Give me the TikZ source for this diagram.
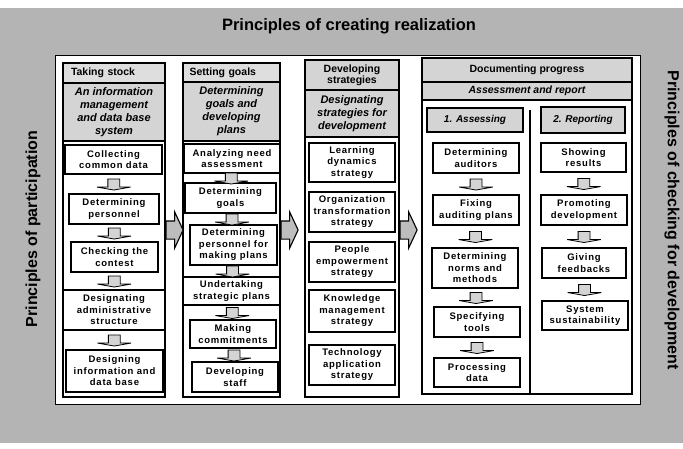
\documentclass[tikz,border=0pt]{standalone}
\usepackage{fontspec}
\setmainfont{Liberation Sans}
\newfontfamily\itemfont[LetterSpace=8]{Liberation Sans}
\usetikzlibrary{shapes.arrows}
\definecolor{panelgray}{HTML}{B4B4B4}
\definecolor{subgray}{HTML}{D4D4D4}
\definecolor{headgray}{HTML}{DEDEDE}
\definecolor{arrowgray}{HTML}{BDBDBD}

\tikzset{
  column/.style={draw, line width=1.1pt, fill=white, inner sep=0pt},
  header/.style={draw, line width=1.1pt, fill=headgray, inner sep=0pt, align=center,
    font=\bfseries\fontsize{10.5}{11}\selectfont},
  subhead/.style={draw, line width=1.1pt, fill=subgray, inner sep=0pt, align=center,
    font=\bfseries\itshape\fontsize{11}{13}\selectfont},
  item/.style={draw, line width=1.1pt, fill=white, inner sep=0pt, align=center,
    font=\itemfont\bfseries\fontsize{9.5}{11.5}\selectfont},
  % the shaft width comes from inner ysep, the head from the extend
  dnarrow/.style={single arrow, draw, line width=0.8pt, fill=subgray, rotate=-90,
    inner xsep=0pt, inner ysep=5.5pt, minimum height=11pt, minimum width=0pt,
    single arrow head extend=11pt, single arrow tip angle=160},
  bigarrow/.style={single arrow, draw, line width=1.1pt, fill=arrowgray,
    inner xsep=0pt, inner ysep=8.5pt, minimum height=17pt, minimum width=0pt,
    single arrow head extend=9pt, single arrow tip angle=130},
  label/.style={font=\bfseries\fontsize{16}{18}\selectfont},
}

\begin{document}
\begin{tikzpicture}[x=1pt, y=-1pt]
    \useasboundingbox (0,0) rectangle (683,448);
    \fill[panelgray] (0,8) rectangle (683,443);
    \draw[line width=0.9pt, fill=white] (55,55) rectangle (640,404);

    \node[label, font=\bfseries\fontsize{16.5}{18}\selectfont] (title) at (349,26) {Principles of creating realization};
    \node[label, rotate=90] (particip) at (33,229) {Principles of participation};
    \node[label, rotate=-90] (checking) at (672,220) {Principles of checking for development};

    % taking stock
    \node[column, minimum width=102pt, minimum height=334pt] (col1) at (114,230) {};
    \node[header, line width=1.8pt, minimum width=102pt, minimum height=20pt, text width=86pt, align=left] (head1) at (114,73) {Taking stock};
    \node[subhead, minimum width=102pt, minimum height=58pt] (sub1) at (114,112) {An information\\management\\and data base\\system};
    \node[item, minimum width=97pt, minimum height=29pt] (c1a) at (113.5,159.5) {Collecting\\common data};
    \node[item, minimum width=90pt, minimum height=30pt] (c1b) at (114,209) {Determining\\personnel};
    \node[item, minimum width=87pt, minimum height=30pt] (c1c) at (114.5,257) {Checking the\\contest};
    \node[item, minimum width=102pt, minimum height=40pt] (c1d) at (114,310) {Designating\\administrative\\structure};
    \node[item, minimum width=97pt, minimum height=42pt] (c1e) at (114.5,371) {Designing\\information and\\data base};
    \path (c1a.south) -- node[dnarrow] {} (c1b.north);
    \path (c1b.south) -- node[dnarrow] {} (c1c.north);
    \path (c1c.south) -- node[dnarrow] {} (c1d.north);
    \path (c1d.south) -- node[dnarrow] {} (c1e.north);

    % setting goals
    \node[column, minimum width=97pt, minimum height=334pt] (col2) at (231.5,230) {};
    \node[header, line width=1.5pt, minimum width=97pt, minimum height=19pt, text width=84pt, align=left] (head2) at (231.5,72.5) {Setting goals};
    \node[subhead, minimum width=97pt, minimum height=59pt] (sub2) at (231.5,111.5) {Determining\\goals and\\developing\\plans};
    \node[item, minimum width=96pt, minimum height=29pt] (c2a) at (232,158.5) {Analyzing need\\assessment};
    \node[item, minimum width=91pt, minimum height=30pt] (c2b) at (230.5,198) {Determining\\goals};
    \node[item, minimum width=87pt, minimum height=40pt] (c2c) at (233.5,245) {Determining\\personnel for\\making plans};
    \node[item, minimum width=97pt, minimum height=28pt] (c2d) at (231.5,291) {Undertaking\\strategic plans};
    \node[item, minimum width=86pt, minimum height=28pt] (c2e) at (233,334) {Making\\commitments};
    \node[item, minimum width=86pt, minimum height=30pt] (c2f) at (235,377) {Developing\\staff};
    \path (c2a.south) -- node[dnarrow] {} (c2b.north);
    \path (c2b.south) -- node[dnarrow] {} (c2c.north);
    \path (c2c.south) -- node[dnarrow] {} (c2d.north);
    \path (c2d.south) -- node[dnarrow] {} (c2e.north);
    \path (c2e.south) -- node[dnarrow] {} (c2f.north);

    % developing strategies
    \node[column, minimum width=94pt, minimum height=337pt] (col3) at (352,228.5) {};
    \node[header, line width=1.1pt, fill=subgray, minimum width=94pt, minimum height=30pt] (head3) at (352,75) {Developing\\strategies};
    \node[subhead, minimum width=94pt, minimum height=47pt] (sub3) at (352,113.5) {Designating\\strategies for\\development};
    \node[item, minimum width=86pt, minimum height=39pt] (c3a) at (352,162.5) {Learning\\dynamics\\strategy};
    \node[item, minimum width=86pt, minimum height=40pt] (c3b) at (352,212) {Organization\\transformation\\strategy};
    \node[item, minimum width=86pt, minimum height=40pt] (c3c) at (352,262) {People\\empowerment\\strategy};
    \node[item, minimum width=86pt, minimum height=42pt] (c3d) at (352,311) {Knowledge\\management\\strategy};
    \node[item, minimum width=86pt, minimum height=40pt] (c3e) at (352,365) {Technology\\application\\strategy};

    % documenting progress
    \node[column, minimum width=210pt, minimum height=336pt] (col4) at (527,226) {};
    \node[header, line width=1.1pt, fill=subgray, minimum width=210pt, minimum height=24pt] (head4) at (527,70) {Documenting progress};
    \node[subhead, font=\bfseries\itshape\fontsize{10.5}{12}\selectfont, minimum width=210pt, minimum height=18pt] (sub4) at (527,91) {Assessment and report};
    \draw[line width=1.1pt] (530,110) -- (col4.south -| 530,0);
    \node[subhead, font=\bfseries\itshape\fontsize{10}{12}\selectfont, minimum width=96pt, minimum height=24pt] (assess) at (475,120) {1. Assessing};
    \node[subhead, font=\bfseries\itshape\fontsize{10}{12}\selectfont, minimum width=84pt, minimum height=26pt] (report) at (583,120) {2. Reporting};
    \node[item, minimum width=86pt, minimum height=30pt] (c4a) at (476,158) {Determining\\auditors};
    \node[item, minimum width=86pt, minimum height=30pt] (c4b) at (476,210) {Fixing\\auditing plans};
    \node[item, minimum width=86pt, minimum height=40pt] (c4c) at (475,268) {Determining\\norms and\\methods};
    \node[item, minimum width=86pt, minimum height=30pt] (c4d) at (477,322) {Specifying\\tools};
    \node[item, minimum width=86pt, minimum height=29pt] (c4e) at (477,372.5) {Processing\\data};
    \path (c4a.south) -- node[dnarrow] {} (c4b.north);
    \path (c4b.south) -- node[dnarrow] {} (c4c.north);
    \path (c4c.south) -- node[dnarrow] {} (c4d.north);
    \path (c4d.south) -- node[dnarrow] {} (c4e.north);
    \node[item, minimum width=85pt, minimum height=29pt] (c5a) at (583.5,157.5) {Showing\\results};
    \node[item, minimum width=86pt, minimum height=30pt] (c5b) at (584,210) {Promoting\\development};
    \node[item, minimum width=84pt, minimum height=30pt] (c5c) at (584,263) {Giving\\feedbacks};
    \node[item, minimum width=86pt, minimum height=29pt] (c5d) at (585,315.5) {System\\sustainability};
    \path (c5a.south) -- node[dnarrow] {} (c5b.north);
    \path (c5b.south) -- node[dnarrow] {} (c5c.north);
    \path (c5c.south) -- node[dnarrow] {} (c5d.north);

    % arrows between the stages
    \path (col1.east) -- node[bigarrow, pos=0, anchor=tail] {} (col2.west);
    \path (col2.east) -- node[bigarrow, pos=0, anchor=tail] {} (col3.west);
    \path (col3.east |- col2.east) -- node[bigarrow, pos=0, anchor=tail] {} (col4.west |- col2.west);
\end{tikzpicture}
\end{document}
